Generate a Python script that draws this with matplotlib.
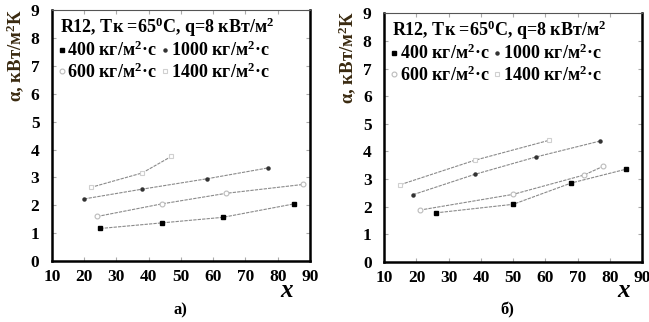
import matplotlib
matplotlib.use("Agg")
import matplotlib.pyplot as plt

plt.rcParams['font.family'] = ['Liberation Serif', 'DejaVu Serif']
plt.rcParams['font.weight'] = 'bold'

# panel a)
a_400_x = [25, 44, 63, 85]
a_400_y = [1.17, 1.37, 1.57, 2.05]
a_600_x = [24, 44, 64, 88]
a_600_y = [1.6, 2.05, 2.43, 2.75]
a_1000_x = [20, 38, 58, 77]
a_1000_y = [2.23, 2.58, 2.95, 3.34]
a_1400_x = [22, 38, 47]
a_1400_y = [2.64, 3.16, 3.75]

# panel б)
b_400_x = [26, 50, 68, 85]
b_400_y = [1.78, 2.09, 2.86, 3.36]
b_600_x = [21, 50, 72, 78]
b_600_y = [1.88, 2.45, 3.15, 3.47]
b_1000_x = [19, 38, 57, 77]
b_1000_y = [2.44, 3.17, 3.8, 4.38]
b_1400_x = [15, 38, 61]
b_1400_y = [2.8, 3.68, 4.4]

labels = ['400 кг/м$^{\\mathbf{2}}$·с', '1000 кг/м$^{\\mathbf{2}}$·с',
          '600 кг/м$^{\\mathbf{2}}$·с', '1400 кг/м$^{\\mathbf{2}}$·с']
title = 'R12, Tк =65$^{\\mathbf{0}}$C, q=8 кВт/м$^{\\mathbf{2}}$'
xticks = [10, 20, 30, 40, 50, 60, 70, 80, 90]
yticks = [0, 1, 2, 3, 4, 5, 6, 7, 8, 9]

plt.rcParams['mathtext.fontset'] = 'custom'
plt.rcParams['mathtext.bf'] = 'Liberation Serif:bold'
plt.rcParams['mathtext.rm'] = 'Liberation Serif:bold'
plt.rcParams['mathtext.it'] = 'Liberation Serif:bold:italic'

fig = plt.figure(figsize=(6.49, 3.22), dpi=100)
ax1 = fig.add_axes([0.080, 0.189, 0.3975, 0.780])
ax2 = fig.add_axes([0.592, 0.186, 0.3975, 0.773])


def draw(ax, data, caption, xlab_x, cap_x):
    styles = [
        dict(marker='s', ms=2.2, mfc='black', mec='black'),
        dict(marker='o', ms=2.2, mfc='#333333', mec='#333333'),
        dict(marker='o', ms=3.5, mfc='white', mec='#bbbbbb', mew=0.8),
        dict(marker='s', ms=3.5, mfc='white', mec='#d0d0d0', mew=0.8),
    ]
    lines = []
    for (xs, ys), st in zip(data, styles):
        ln, = ax.plot(xs, ys, color='#8a8a8a', lw=0.8, ls=(0, (3, 1)), **st)
        lines.append(ln)
    ax.set_xlim(10, 90)
    ax.set_ylim(0, 9)
    ax.set_xticks(xticks)
    ax.set_yticks(yticks)
    ax.tick_params(direction='in', length=3, color='#aaaaaa', labelsize=12.5,
                   top=True, right=True)
    ax.tick_params(axis='x', pad=6)
    ax.tick_params(axis='y', pad=9)
    for lab in ax.get_xticklabels() + ax.get_yticklabels():
        lab.set_fontweight('bold')
    for s in ['left', 'bottom', 'right']:
        ax.spines[s].set_linewidth(1.8)
    ax.spines['top'].set_linewidth(0.8)
    ax.spines['top'].set_color('#555555')
    ax.set_ylabel('α, кВт/м$^{\\mathbf{2}}$К', fontsize=13.5, fontweight='bold',
                  color='#3a2a10')
    ax.yaxis.set_label_coords(-0.10, 0.82)
    ax.text(xlab_x, -0.115, '$x$', transform=ax.transAxes, fontsize=18,
            ha='center', va='center')
    ax.text(cap_x, -0.195, caption, transform=ax.transAxes, fontsize=12,
            fontweight='bold', ha='center', va='center')
    ax.text(0.03, 0.93, title, transform=ax.transAxes, fontsize=13,
            fontweight='bold', va='center')
    leg = ax.legend(lines[:1] + lines[2:3] + lines[1:2] + lines[3:],
                    [labels[0], labels[2], labels[1], labels[3]],
                    ncol=2, loc='upper left', bbox_to_anchor=(0.0, 0.905),
                    frameon=False, handlelength=0.3, borderaxespad=0.0,
                    handletextpad=0.15, columnspacing=0.3, labelspacing=0.1,
                    prop={'weight': 'bold', 'size': 13})
    for h in leg.legend_handles:
        h.set_linestyle('none')


draw(ax1, [(a_400_x, a_400_y), (a_1000_x, a_1000_y),
           (a_600_x, a_600_y), (a_1400_x, a_1400_y)], 'а)', 0.91, 0.5)
draw(ax2, [(b_400_x, b_400_y), (b_1000_x, b_1000_y),
           (b_600_x, b_600_y), (b_1400_x, b_1400_y)], 'б)', 0.93, 0.477)

fig.savefig('out.png', dpi=100)
